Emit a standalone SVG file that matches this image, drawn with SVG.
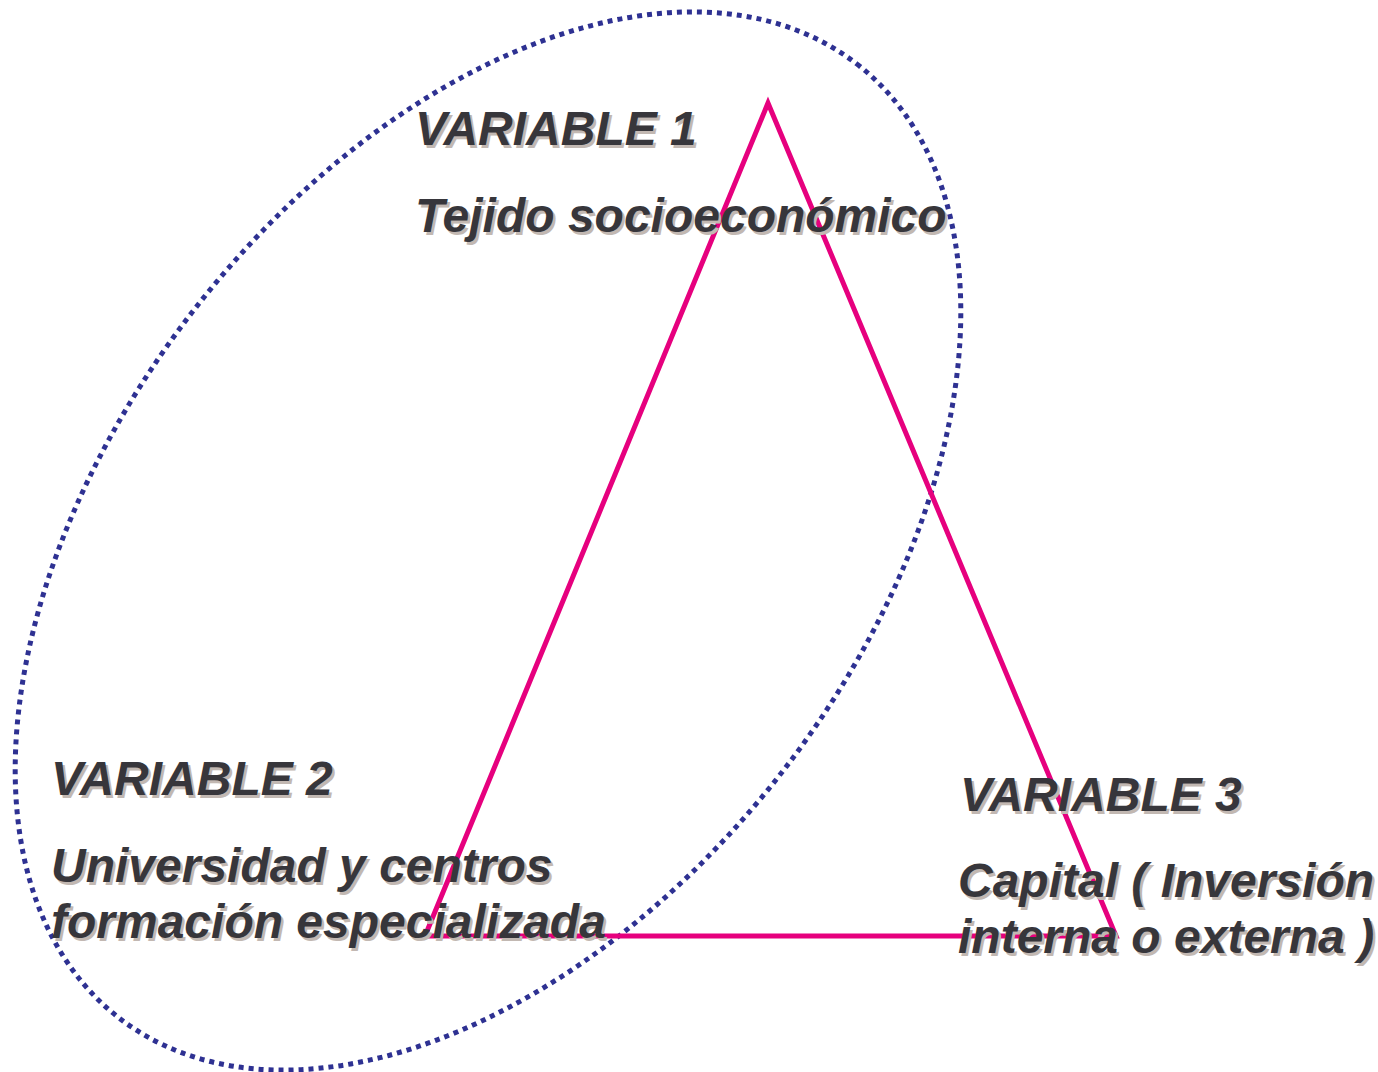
<svg xmlns="http://www.w3.org/2000/svg" width="1378" height="1072" viewBox="0 0 1378 1072">
<style>
.t{font-family:"Liberation Sans",Arial,sans-serif;font-weight:bold;font-style:italic;font-size:48px}
.sh{fill:#C2B8B2}
.fg{fill:#37363B}
</style>
<defs>
<g id="txt1"><text x="415" y="145">VARIABLE 1</text><text x="415" y="232">Tejido socioeconómico</text></g>
<g id="txt2"><text x="51" y="795">VARIABLE 2</text><text x="51" y="882">Universidad y centros</text><text x="51" y="938">formación especializada</text></g>
<g id="txt3"><text x="960" y="811">VARIABLE 3</text><text x="958" y="897">Capital ( Inversión</text><text x="958" y="953">interna o externa )</text></g>
</defs>
<rect width="1378" height="1072" fill="#fff"/>
<g id="connectors">
<ellipse id="ellipse" cx="488" cy="541" rx="603" ry="374" transform="rotate(-52.3 488 541)" fill="none" stroke="#2E3192" stroke-width="5" stroke-dasharray="5 5"/>
<polygon id="triangle" points="768,103 425,936 1116,936" fill="none" stroke="#E6007E" stroke-width="5" stroke-linejoin="miter"/>
</g>
<g id="node1" class="t"><use href="#txt1" class="sh" transform="translate(2.5 2.5)"/><use href="#txt1" class="fg"/></g>
<g id="node2" class="t"><use href="#txt2" class="sh" transform="translate(2.5 2.5)"/><use href="#txt2" class="fg"/></g>
<g id="node3" class="t"><use href="#txt3" class="sh" transform="translate(2.5 2.5)"/><use href="#txt3" class="fg"/></g>
</svg>
